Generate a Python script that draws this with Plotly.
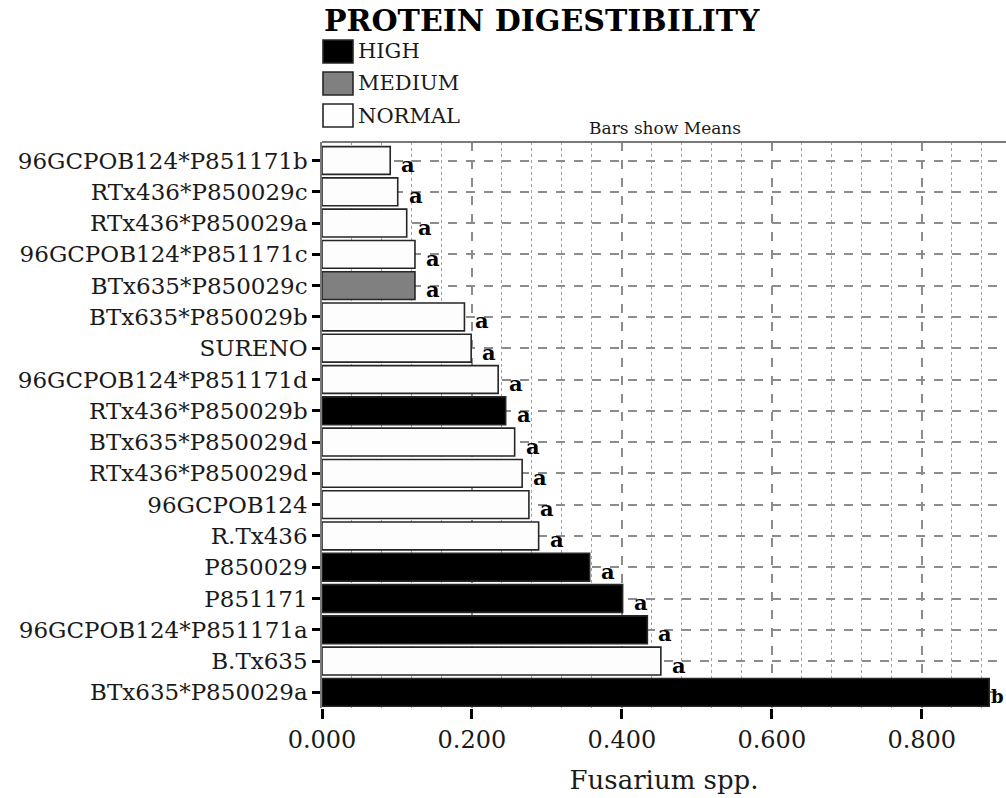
import plotly.graph_objects as go

# Genotypes, listed top to bottom as drawn
genotypes = [
    "96GCPOB124*P851171b", "RTx436*P850029c", "RTx436*P850029a",
    "96GCPOB124*P851171c", "BTx635*P850029c", "BTx635*P850029b",
    "SURENO", "96GCPOB124*P851171d", "RTx436*P850029b",
    "BTx635*P850029d", "RTx436*P850029d", "96GCPOB124",
    "R.Tx436", "P850029", "P851171", "96GCPOB124*P851171a",
    "B.Tx635", "BTx635*P850029a",
]
# Mean Fusarium spp. incidence per genotype
means = [0.091, 0.101, 0.113, 0.124, 0.124, 0.190,
         0.199, 0.235, 0.245, 0.257, 0.267, 0.276,
         0.289, 0.357, 0.401, 0.434, 0.452, 0.890]
# Protein digestibility class per genotype
digestibility = ["NORMAL", "NORMAL", "NORMAL", "NORMAL", "MEDIUM", "NORMAL",
                 "NORMAL", "NORMAL", "HIGH", "NORMAL", "NORMAL", "NORMAL",
                 "NORMAL", "HIGH", "HIGH", "HIGH", "NORMAL", "HIGH"]
# Mean separation letters
letters = ["a"] * 17 + ["b"]

classes = ["HIGH", "MEDIUM", "NORMAL"]
fills = {"HIGH": "#000000", "MEDIUM": "#808080", "NORMAL": "#fdfdfd"}

SERIF = "DejaVu Serif"
INK = "#1a1a1a"

fig = go.Figure()
for cls in classes:
    idx = [i for i, d in enumerate(digestibility) if d == cls]
    fig.add_trace(go.Bar(
        x=[means[i] for i in idx],
        y=[genotypes[i] for i in idx],
        orientation="h",
        name=cls,
        marker=dict(color=fills[cls], line=dict(color="#262626", width=1.6)),
        showlegend=False,
        hovertemplate="%{y}: %{x:.3f}<extra>" + cls + "</extra>",
    ))

# Letters next to bar ends (the last one sits tight against the plot edge)
for g, m, l in zip(genotypes, means, letters):
    fig.add_annotation(
        x=m, y=g, text=l, showarrow=False, xanchor="left", yanchor="middle",
        xshift=9 if l == "a" else 0, yshift=-4,
        font=dict(family=SERIF, size=21 if l == "a" else 18,
                  color="#000000", weight="bold"),
    )

# Legend block drawn above the plot
legend_top = 142
plot_w, plot_h = 684, 566
box_y = [(40, 63), (72, 95), (104, 127)]
for cls, (y0, y1) in zip(classes, box_y):
    fig.add_shape(
        type="rect", xref="paper", yref="paper",
        x0=(323 - 322) / plot_w, x1=(353 - 322) / plot_w,
        y0=1 + (legend_top - y1) / plot_h, y1=1 + (legend_top - y0) / plot_h,
        fillcolor=fills[cls], line=dict(color="#262626", width=1.6),
    )
    fig.add_annotation(
        xref="paper", yref="paper", x=(356 - 322) / plot_w,
        y=1 + (legend_top - (y0 + y1) / 2) / plot_h,
        text=cls, showarrow=False, xanchor="left", yanchor="middle",
        font=dict(family=SERIF, size=21, color=INK),
    )

fig.add_annotation(
    xref="paper", yref="paper", x=0, y=1 + (legend_top - 20) / plot_h,
    text="<b>PROTEIN DIGESTIBILITY</b>", showarrow=False,
    xanchor="left", yanchor="middle",
    font=dict(family=SERIF, size=30, color="#000000"),
)
fig.add_annotation(
    xref="paper", yref="paper", x=(665 - 322) / plot_w, y=1,
    text="Bars show Means", showarrow=False, xanchor="center", yanchor="bottom",
    yshift=2, font=dict(family=SERIF, size=17, color=INK),
)

# Frame line along the top of the plot area
fig.add_shape(type="line", xref="paper", yref="paper", x0=0, x1=1, y0=1, y1=1,
              line=dict(color="#7a7a7a", width=2))

fig.update_layout(
    width=1006, height=798,
    margin=dict(l=322, r=0, t=142, b=90),
    paper_bgcolor="white", plot_bgcolor="white",
    barmode="relative", bargap=0.11,
    font=dict(family=SERIF, color=INK),
)
fig.update_xaxes(
    range=[0, 0.9124], dtick=0.2, tick0=0, tickformat=".3f",
    ticks="outside", ticklen=10, tickwidth=3, tickcolor="#000000",
    tickfont=dict(family=SERIF, size=24, color=INK),
    showgrid=True, gridcolor="#8c8c8c", gridwidth=1.5, griddash="dash",
    minor=dict(dtick=0.04, showgrid=True, gridcolor="#a0a0a0",
               gridwidth=1.2, griddash="dot"),
    showline=False, zeroline=False,
    title=dict(text="Fusarium spp.", standoff=18,
               font=dict(family=SERIF, size=26, color=INK)),
)
fig.update_yaxes(
    categoryorder="array", categoryarray=genotypes, autorange="reversed",
    ticks="outside", ticklen=8, tickwidth=3, tickcolor="#000000",
    tickfont=dict(family=SERIF, size=23, color=INK),
    showgrid=True, gridcolor="#8c8c8c", gridwidth=1.5, griddash="dash",
    showline=True, linecolor="#7a7a7a", linewidth=1.5,
    zeroline=False,
)

fig.write_html("out.html")
